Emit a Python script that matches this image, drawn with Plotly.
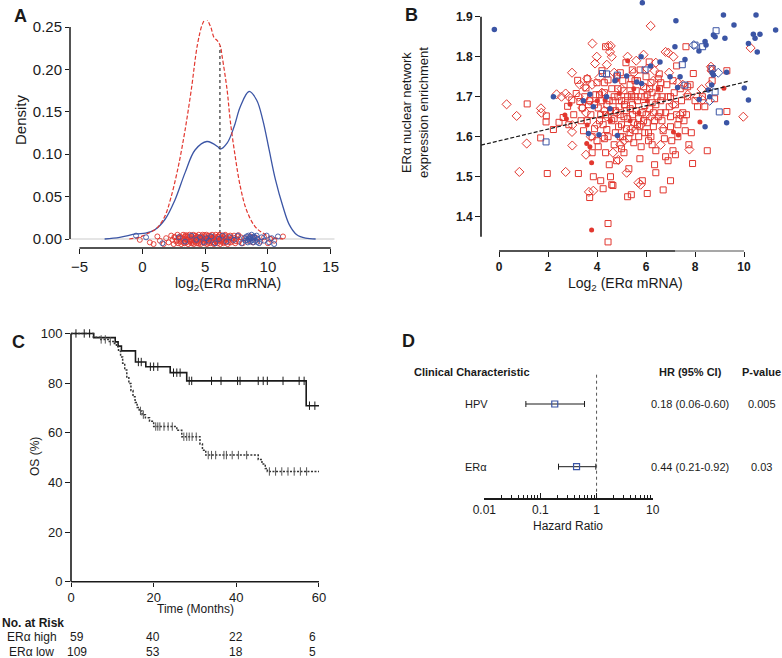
import plotly.graph_objects as go

W, H = 782, 658
def px(x): return x / W
def py(y): return 1 - y / H

FONT = "Liberation Sans, Arial, Helvetica, sans-serif"
INK = "#1a1a1a"
RED = "#e2372f"
BLUE = "#3b55a5"

# ---------------- Panel A data ----------------
blue_dens_x = [-3.0, -1.8, -0.5, 0.26, 1.0, 1.8, 2.6, 3.4, 4.2, 5.14, 6.0, 6.2, 6.75, 7.3, 7.8, 8.5, 9.1, 9.6, 10.1, 10.6, 11.2, 11.7, 12.3, 13.0, 13.8]
blue_dens_y = [0.0, 0.002, 0.006, 0.007, 0.011, 0.023, 0.046, 0.078, 0.105, 0.115, 0.109, 0.106, 0.113, 0.132, 0.156, 0.174, 0.164, 0.140, 0.105, 0.070, 0.038, 0.017, 0.005, 0.001, 0.0]
red_dens_x = [-1.04, -0.26, 0.52, 1.17, 1.8, 2.3, 2.86, 3.4, 3.9, 4.4, 4.8, 5.06, 5.45, 5.7, 5.97, 6.2, 6.36, 6.75, 7.0, 7.4, 7.8, 8.3, 8.96, 9.6, 10.4, 11.2]
red_dens_y = [0.0, 0.002, 0.007, 0.013, 0.027, 0.050, 0.085, 0.128, 0.176, 0.230, 0.254, 0.260, 0.250, 0.238, 0.234, 0.228, 0.215, 0.176, 0.140, 0.097, 0.062, 0.034, 0.015, 0.007, 0.002, 0.0]
cutoff_x = [6.18, 6.18]
cutoff_y = [0.0, 0.227]
red_rug = [(-0.2,-0.001),(0.6,-0.004),(0.9,-0.006),(1.2,0.003),(1.4,-0.002),(1.7,-0.006),(1.9,0.001),(2.1,-0.004),(2.3,0.004),(2.4,-0.001),(2.5,-0.006),(2.6,0.002),(2.7,-0.003),(2.8,0.005),(2.85,-0.005),(2.9,0.0),(3.0,0.003),(3.05,-0.003),(3.1,-0.006),(3.2,0.001),(3.25,0.005),(3.3,-0.002),(3.35,-0.005),(3.4,0.003),(3.45,0.0),(3.5,-0.004),(3.55,0.004),(3.6,-0.001),(3.65,-0.006),(3.7,0.002),(3.75,0.005),(3.8,-0.003),(3.85,0.0),(3.9,-0.005),(3.95,0.003),(4.0,-0.002),(4.05,0.005),(4.1,-0.006),(4.15,0.001),(4.2,-0.003),(4.25,0.004),(4.3,0.0),(4.35,-0.005),(4.4,0.002),(4.45,-0.002),(4.5,0.005),(4.55,-0.004),(4.6,0.001),(4.65,-0.006),(4.7,0.003),(4.75,-0.001),(4.8,0.005),(4.85,-0.003),(4.9,0.0),(4.95,-0.005),(5.0,0.003),(5.05,-0.002),(5.1,0.005),(5.15,-0.006),(5.2,0.001),(5.25,-0.003),(5.3,0.004),(5.35,0.0),(5.4,-0.005),(5.45,0.002),(5.5,-0.002),(5.55,0.005),(5.6,-0.004),(5.65,0.001),(5.7,-0.006),(5.75,0.003),(5.8,-0.001),(5.85,0.005),(5.9,-0.003),(5.95,0.0),(6.0,-0.005),(6.05,0.003),(6.1,-0.002),(6.15,0.005),(6.2,-0.006),(6.25,0.001),(6.3,-0.003),(6.35,0.004),(6.4,0.0),(6.45,-0.005),(6.5,0.002),(6.55,-0.002),(6.6,0.005),(6.65,-0.004),(6.7,0.001),(6.8,-0.006),(6.85,0.003),(6.9,-0.001),(7.0,0.004),(7.05,-0.004),(7.1,0.001),(7.2,-0.002),(7.3,0.004),(7.4,-0.005),(7.5,0.0),(7.6,0.003),(7.7,-0.003),(7.85,0.002),(8.0,-0.005),(8.2,0.001),(8.4,-0.002),(8.6,0.003),(8.8,-0.004),(9.1,0.001),(9.4,-0.003),(9.7,0.002),(10.0,-0.005),(10.2,0.0),(10.5,-0.002),(11.2,0.003),(3.0,0.0015),(3.3,-0.0045),(3.6,0.0025),(3.9,-0.0015),(4.2,0.0035),(4.5,-0.0055),(4.8,0.0015),(5.1,-0.0015),(5.4,0.0035),(5.7,-0.0045),(6.0,0.0025),(6.3,-0.0015),(6.6,0.0035),(6.9,-0.0035),(4.35,0.0025),(4.65,-0.0025),(4.95,0.0045),(5.25,-0.0045),(5.55,0.0015),(5.85,-0.0025),(6.15,0.0045),(6.45,-0.0035),(3.45,0.0045),(3.75,-0.0025),(4.05,-0.0045),(2.55,0.0025),(2.75,-0.0015),(7.25,0.0015),(7.45,-0.0025),(7.65,0.0045)]
blue_rug = [(-0.5,0.004),(0.3,0.002),(1.6,-0.005),(2.9,0.002),(3.4,-0.003),(3.9,0.004),(4.3,-0.001),(4.6,0.002),(4.9,-0.004),(5.1,0.001),(5.3,-0.002),(5.5,0.003),(5.8,-0.005),(6.1,0.0),(6.4,0.004),(6.7,-0.003),(7.0,0.002),(7.3,-0.001),(7.6,0.004),(7.9,-0.005),(8.1,0.001),(8.2,-0.002),(8.3,0.003),(8.4,-0.004),(8.5,0.0),(8.55,0.002),(8.6,-0.003),(8.65,0.001),(8.7,0.005),(8.75,-0.001),(8.8,0.002),(8.85,-0.004),(8.9,0.003),(9.0,-0.002),(9.1,0.004),(9.2,0.0),(9.3,-0.005),(9.5,0.002),(9.7,-0.002),(9.9,0.004),(10.1,-0.004),(10.3,0.001),(10.5,-0.006),(10.8,0.003),(8.45,0.004),(8.35,-0.001),(8.95,0.0015),(9.15,-0.0035)]
a_xticks = [-5, 0, 5, 10, 15]
a_yticks = [0.0, 0.05, 0.10, 0.15, 0.20, 0.25]
a_yticktext = ["0.00", "0.05", "0.10", "0.15", "0.20", "0.25"]

# ---------------- Panel B data ----------------
red_sq = [(1.15,1.682),(1.70,1.597),(1.93,1.652),(1.92,1.637),(1.97,1.508),(2.22,1.618),(2.45,1.636),(2.62,1.648),(2.85,1.630),(2.97,1.692),(2.80,1.676),(3.21,1.741),(3.15,1.708),(3.24,1.508),(3.30,1.688),(3.40,1.672),(3.05,1.655),(3.35,1.640),(3.50,1.700),(3.55,1.722),(3.45,1.615),
(3.60,1.745),(3.70,1.690),(3.75,1.655),(3.80,1.560),(3.70,1.448),(3.85,1.500),(3.90,1.620),(3.95,1.705),(4.00,1.735),(4.05,1.672),(4.10,1.640),(4.05,1.575),(4.15,1.490),(4.25,1.470),(4.20,1.690),(4.30,1.710),(4.35,1.655),(4.40,1.618),(4.45,1.600),(4.45,1.383),(4.45,1.337),(4.35,1.825),(4.35,1.560),(4.50,1.530),(4.55,1.500),(4.45,1.742),(4.20,1.765),(4.30,1.595),(4.60,1.480),(4.65,1.478),(3.80,1.600),(3.65,1.680),(4.00,1.590),(4.10,1.705),(4.25,1.630),(4.40,1.680),(4.55,1.665),
(4.60,1.720),(4.65,1.690),(4.70,1.645),(4.75,1.610),(4.70,1.580),(4.80,1.540),(4.85,1.700),(4.90,1.675),(4.95,1.655),(5.00,1.630),(5.05,1.600),(5.00,1.570),(5.10,1.560),(5.05,1.740),(5.10,1.715),(5.15,1.690),(5.20,1.665),(5.25,1.645),(5.20,1.620),(5.30,1.595),(5.30,1.520),(5.25,1.450),(5.40,1.455),(5.35,1.730),(5.40,1.705),(5.45,1.680),(5.45,1.655),(5.50,1.635),(5.50,1.585),(5.18,1.785),(4.80,1.750),(4.95,1.760),(5.35,1.610),(4.75,1.665),(4.88,1.625),(5.12,1.680),(5.42,1.700),
(5.55,1.740),(5.60,1.715),(5.65,1.690),(5.60,1.665),(5.70,1.645),(5.75,1.625),(5.70,1.600),(5.80,1.575),(5.85,1.490),(5.75,1.545),(5.90,1.725),(5.95,1.700),(5.95,1.678),(6.00,1.655),(6.05,1.635),(6.05,1.458),(6.10,1.610),(6.10,1.590),(6.13,1.787),(6.20,1.735),(6.25,1.710),(6.25,1.685),(6.30,1.660),(6.35,1.640),(6.30,1.625),(6.35,1.530),(6.40,1.510),(6.40,1.565),(5.44,1.767),(5.76,1.767),(6.00,1.750),(5.85,1.660),(6.15,1.670),(5.65,1.630),(6.45,1.700),(6.20,1.600),
(6.50,1.745),(6.54,1.757),(6.55,1.720),(6.60,1.690),(6.60,1.660),(6.65,1.640),(6.70,1.615),(6.75,1.595),(6.70,1.467),(6.80,1.550),(6.85,1.730),(6.90,1.700),(6.95,1.675),(7.00,1.650),(7.00,1.625),(7.05,1.590),(7.10,1.565),(7.10,1.740),(7.15,1.710),(7.20,1.680),(7.25,1.655),(7.25,1.777),(7.30,1.630),(7.30,1.600),(7.00,1.490),(7.40,1.720),(7.45,1.690),(7.50,1.660),(6.90,1.540),(7.20,1.555),
(7.55,1.640),(7.60,1.615),(7.63,1.825),(7.70,1.700),(7.75,1.580),(7.80,1.730),(7.85,1.610),(7.90,1.533),(7.93,1.758),(8.00,1.690),(8.10,1.675),(8.30,1.700),(8.40,1.675),(8.50,1.565),(8.65,1.770),(8.70,1.740),(8.80,1.695),(9.30,1.765),(9.30,1.663),(7.65,1.655),(7.70,1.725),
(4.70,1.700),(4.85,1.720),(5.00,1.690),(5.10,1.650),(5.25,1.700),(5.35,1.670),(5.55,1.700),(5.65,1.740),(5.80,1.700),(5.90,1.640),(6.05,1.705),(6.15,1.720),(6.40,1.680),(6.50,1.650),(6.65,1.700),(6.80,1.660),(4.60,1.640),(4.95,1.600),(5.55,1.615),(6.25,1.580),(5.40,1.745),(6.60,1.735),(5.95,1.610),(4.50,1.690),(4.30,1.735),(4.15,1.655),(3.90,1.680),(3.60,1.640),(7.00,1.700),(7.35,1.645)]
red_dm = [(0.31,1.681),(0.72,1.652),(0.83,1.512),(1.13,1.583),(1.71,1.671),(1.73,1.660),(2.35,1.706),(2.55,1.700),(2.72,1.512),(2.99,1.578),(2.98,1.760),(2.72,1.708),(2.98,1.612),(2.99,1.629),(2.85,1.700),(3.25,1.700),(3.50,1.725),(3.55,1.555),(3.81,1.833),(3.92,1.783),(3.99,1.800),(3.67,1.462),(3.85,1.465),(4.46,1.827),(4.56,1.827),(4.53,1.812),(4.60,1.800),(4.40,1.780),(3.60,1.745),(3.80,1.730),(4.10,1.748),(4.20,1.710),(3.70,1.690),(3.40,1.672),(3.55,1.660),(3.75,1.600),(4.00,1.630),(4.25,1.600),(4.70,1.760),(4.40,1.650),(4.65,1.560),(4.87,1.542),(5.21,1.510),(5.69,1.485),(5.78,1.480),(4.95,1.580),(5.25,1.800),(5.60,1.790),(5.90,1.805),(6.19,1.877),(6.40,1.785),(6.35,1.765),(6.05,1.770),(5.50,1.760),(6.80,1.812),(6.91,1.810),(7.12,1.800),(6.94,1.760),(7.30,1.735),(7.50,1.730),(7.70,1.705),(7.10,1.680),(8.10,1.700),(8.27,1.719),(8.31,1.692),(8.65,1.775),(8.68,1.765),(8.60,1.730),(10.27,1.822),(9.97,1.650),(7.77,1.568),(6.70,1.620),(6.20,1.650),(5.80,1.630),(5.10,1.590),(4.80,1.660),(5.40,1.620),(6.00,1.720),(6.60,1.580),(7.40,1.655),(6.30,1.740),(4.30,1.665),(3.30,1.730),(5.00,1.720)]
red_dot = [(3.78,1.367),(3.78,1.535),(5.25,1.790),(4.33,1.692),(2.90,1.681),(2.69,1.654),(3.58,1.583),(3.71,1.575),(8.20,1.637),(9.18,1.721),(7.12,1.612),(7.32,1.604),(4.01,1.690),(4.80,1.742),(3.60,1.629),(5.71,1.660),(4.91,1.708),(2.75,1.645),(5.35,1.640),(6.05,1.690),(5.50,1.720),(6.50,1.720),(4.55,1.640)]
blue_dot = [(-0.19,1.868),(5.85,1.935),(7.22,1.890),(9.16,1.904),(10.49,1.904),(9.59,1.879),(11.29,1.867),(10.65,1.856),(10.38,1.856),(10.45,1.846),(9.22,1.846),(8.82,1.850),(8.75,1.854),(8.41,1.838),(8.45,1.829),(10.18,1.833),(10.54,1.812),(7.18,1.825),(7.59,1.793),(8.16,1.814),(5.80,1.800),(6.57,1.787),(6.19,1.777),(6.98,1.750),(5.21,1.752),(4.73,1.740),(5.62,1.737),(3.71,1.706),(3.44,1.690),(4.39,1.700),(3.85,1.675),(4.53,1.670),(2.22,1.700),(7.29,1.723),(8.54,1.717),(8.68,1.729),(8.17,1.693),(10.01,1.722),(10.18,1.692),(8.41,1.625),(9.29,1.635),(4.08,1.605),(4.83,1.603),(3.65,1.608),(9.29,1.761),(8.75,1.754),(5.82,1.733),(7.39,1.750),(8.60,1.700),(8.70,1.760)]
blue_sq = [(8.00,1.829),(8.86,1.865),(8.31,1.825),(7.48,1.780),(4.22,1.758),(4.39,1.757),(4.83,1.754),(5.96,1.767),(8.99,1.662),(1.92,1.587),(8.82,1.712),(7.59,1.729),(8.70,1.770)]
blue_dm = [(7.95,1.829),(8.95,1.760),(8.60,1.690)]
trend_x = [-0.73, 10.2]
trend_y = [1.579, 1.739]
b_xticks = [0, 2, 4, 6, 8, 10]
b_yticks = [1.4, 1.5, 1.6, 1.7, 1.8, 1.9]

# ---------------- Panel C data ----------------
high_t = [0, 5.5, 10.7, 11.4, 12.2, 15.6, 18.1, 24.0, 28.0, 56.9, 60]
high_s = [100, 98.3, 96.6, 94.9, 93.0, 88.5, 86.6, 84.2, 80.9, 70.9, 70.9]
low_t = [0, 5.4, 7.0, 9.0, 10.5, 11.0, 11.5, 12.0, 12.5, 13.0, 13.5, 14.0, 14.5, 15.0, 15.5, 16.0, 16.5, 17.2, 18.0, 19.0, 20.0, 25.6, 26.8, 31.2, 31.8, 32.6, 45.3, 46.2, 47.0, 47.5, 60]
low_s = [100, 98.5, 97.6, 96.8, 96.0, 94.6, 92.8, 90.5, 88.0, 85.3, 82.5, 79.8, 77.0, 74.5, 72.2, 70.2, 68.8, 67.3, 66.0, 64.6, 62.5, 61.0, 58.4, 55.5, 53.0, 51.0, 49.2, 47.4, 45.6, 44.4, 44.4]
high_cens_t = [1.2, 3.2, 4.5, 16.3, 17.0, 19.2, 20.0, 21.0, 24.8, 25.6, 26.4, 28.6, 29.2, 34.0, 36.3, 40.3, 40.9, 45.3, 46.5, 47.5, 51.3, 55.2, 56.4, 57.7, 59.0]
high_cens_s = [100, 100, 100, 88.5, 88.5, 86.6, 86.6, 86.6, 84.2, 84.2, 84.2, 80.9, 80.9, 80.9, 80.9, 80.9, 80.9, 80.9, 80.9, 80.9, 80.9, 80.9, 80.9, 70.9, 70.9]
low_cens_t = [7.3, 8.3, 9.5, 16.8, 17.5, 20.5, 21.0, 21.5, 22.5, 23.5, 24.5, 27.3, 28.0, 28.6, 29.3, 30.3, 33.2, 34.0, 35.0, 37.0, 37.6, 39.0, 40.5, 42.5, 48.0, 49.5, 51.0, 52.5, 54.0, 55.5, 57.0]
low_cens_s = [97.6, 97.6, 96.8, 68.8, 67.3, 62.5, 62.5, 62.5, 62.5, 62.5, 62.5, 58.4, 58.4, 58.4, 58.4, 58.4, 51.0, 51.0, 51.0, 51.0, 51.0, 51.0, 51.0, 51.0, 44.4, 44.4, 44.4, 44.4, 44.4, 44.4, 44.4]
c_xticks = [0, 20, 40, 60]
c_yticks = [0, 20, 40, 60, 80, 100]
risk_times = [0, 20, 40, 60]
risk_high = [59, 40, 22, 6]
risk_low = [109, 53, 18, 5]

# ---------------- Panel D data ----------------
d_labels = ["HPV", "ERα"]
d_rows = [2, 1]
d_hr = [0.18, 0.44]
d_lo = [0.055, 0.21]
d_hi = [0.61, 0.97]
d_hr_text = ["0.18 (0.06-0.60)", "0.44 (0.21-0.92)"]
d_p_text = ["0.005", "0.03"]
d_xticks = [0.01, 0.1, 1, 10]
d_xticktext = ["0.01", "0.1", "1", "10"]
d_minor = [0.02,0.03,0.04,0.05,0.06,0.07,0.08,0.09,0.2,0.3,0.4,0.5,0.6,0.7,0.8,0.9,2,3,4,5,6,7,8,9]

fig = go.Figure()

# ---- A ----
fig.add_trace(go.Scatter(x=blue_dens_x, y=blue_dens_y, mode="lines", line=dict(color=BLUE, width=1.3, shape="spline"), xaxis="x", yaxis="y", showlegend=False))
fig.add_trace(go.Scatter(x=red_dens_x, y=red_dens_y, mode="lines", line=dict(color=RED, width=1.2, dash="4px,2px", shape="spline"), xaxis="x", yaxis="y", showlegend=False))
fig.add_trace(go.Scatter(x=cutoff_x, y=cutoff_y, mode="lines", line=dict(color="#333333", width=1.2, dash="dot"), xaxis="x", yaxis="y", showlegend=False))
fig.add_trace(go.Scatter(x=[p[0] for p in red_rug], y=[p[1] for p in red_rug], mode="markers",
                         marker=dict(symbol="circle-open", size=5, color=RED, line=dict(width=0.9)), xaxis="x", yaxis="y", showlegend=False))
fig.add_trace(go.Scatter(x=[p[0] for p in blue_rug], y=[p[1] for p in blue_rug], mode="markers",
                         marker=dict(symbol="circle-open", size=5, color=BLUE, line=dict(width=0.9)), xaxis="x", yaxis="y", showlegend=False))

# ---- B ----
def sc(pts, symbol, size, color, lw=1.0):
    fig.add_trace(go.Scatter(x=[p[0] for p in pts], y=[p[1] for p in pts], mode="markers",
                             marker=dict(symbol=symbol, size=size, color=color, line=dict(width=lw, color=color)),
                             xaxis="x2", yaxis="y2", showlegend=False))
sc(red_sq, "square-open", 6, RED)
sc(red_dm, "diamond-open", 7, RED)
sc(red_dot, "circle", 5, RED, 0)
sc(blue_sq, "square-open", 6, BLUE)
sc(blue_dm, "diamond-open", 7, BLUE)
sc(blue_dot, "circle", 5.5, BLUE, 0)
fig.add_trace(go.Scatter(x=trend_x, y=trend_y, mode="lines", line=dict(color=INK, width=1.2, dash="4px,2px"),
                         xaxis="x2", yaxis="y2", showlegend=False))

# ---- C ----
fig.add_trace(go.Scatter(x=high_t, y=high_s, mode="lines", line=dict(color=INK, width=1.6, shape="hv"), xaxis="x3", yaxis="y3", showlegend=False))
fig.add_trace(go.Scatter(x=low_t, y=low_s, mode="lines", line=dict(color="#333333", width=1.5, shape="hv", dash="2px,1.5px"), xaxis="x3", yaxis="y3", showlegend=False))
fig.add_trace(go.Scatter(x=high_cens_t, y=high_cens_s, mode="markers", marker=dict(symbol="line-ns", size=6, line=dict(width=1, color=INK)), xaxis="x3", yaxis="y3", showlegend=False))
fig.add_trace(go.Scatter(x=low_cens_t, y=low_cens_s, mode="markers", marker=dict(symbol="line-ns", size=6, line=dict(width=1, color="#555555")), xaxis="x3", yaxis="y3", showlegend=False))

# ---- D ----
fig.add_trace(go.Scatter(x=d_hr, y=d_rows, mode="markers",
                         marker=dict(symbol="square-open", size=6, color=BLUE, line=dict(width=1.2, color=BLUE)),
                         error_x=dict(type="data", symmetric=False,
                                      array=[h - m for h, m in zip(d_hi, d_hr)],
                                      arrayminus=[m - l for m, l in zip(d_hr, d_lo)],
                                      color=INK, thickness=1, width=3),
                         xaxis="x4", yaxis="y4", showlegend=False))
fig.add_trace(go.Scatter(x=[1, 1], y=[0.5056, 2.515], mode="lines", line=dict(color="#555555", width=1, dash="dot"),
                         xaxis="x4", yaxis="y4", showlegend=False))

tick_font = dict(family=FONT, size=15, color=INK)
shapes = []
annotations = []

def axline(xref, yref, x0, y0, x1, y1, color=INK, width=1.5):
    shapes.append(dict(type="line", xref=xref, yref=yref, x0=x0, y0=y0, x1=x1, y1=y1, line=dict(color=color, width=width), layer="above"))

# A axis lines
shapes.append(dict(type="line", xref="x", yref="y", x0=-5.7, x1=15.3, y0=0, y1=0, line=dict(color="#dcdcdc", width=1.5), layer="below"))
axline("x", "y domain", -5, 0, 15, 0)
axline("x domain", "y", 0, 0, 0, 0.25)
# B axis lines
axline("x2", "y2 domain", 0, 0, 7.2, 0, width=1.6)
axline("x2", "y2 domain", 7.2, 0, 10, 0, color="#8a8a8a", width=1.3)
axline("x2 domain", "y2", 0, 1.35, 0, 1.9, width=1.6)
# C axis lines
axline("x3", "y3 domain", 0, 0, 60, 0, width=1.6)
axline("x3 domain", "y3", 0, 0, 0, 100, width=1.6)

def ann(text, x, y, size, bold=False, xanchor="center", angle=0, color=INK):
    annotations.append(dict(text=text, x=px(x), y=py(y), xref="paper", yref="paper", showarrow=False,
                            xanchor=xanchor, yanchor="middle", textangle=angle,
                            font=dict(family=FONT, size=size, color=color, weight="bold" if bold else "normal")))

# panel letters
ann("A", 20, 16, 18, True)
ann("B", 412, 15, 18, True)
ann("C", 18, 342, 18, True)
ann("D", 408, 341, 18, True)
# A titles
ann("log<sub>2</sub>(ERα mRNA)", 228, 284, 14)
ann("Density", 20, 120, 15, angle=-90)
# B titles
ann("Log<sub>2</sub> (ERα mRNA)", 625, 284, 14)
ann("ERα nuclear network<br>expression enrichment", 415, 113, 13, angle=-90)
# C titles
ann("Time (Months)", 195, 609, 12)
ann("OS (%)", 35, 457, 12, angle=-90)
ann("No. at Risk", 0, 623, 12, True, xanchor="left")
ann("ERα high", 5, 637, 12, xanchor="left")
ann("ERα low", 7, 652, 12, xanchor="left")
risk_px = [77, 153, 236, 312]
for xp, hv, lv in zip(risk_px, risk_high, risk_low):
    ann(str(hv), xp, 637, 12)
    ann(str(lv), xp, 652, 12)
# D texts
ann("Clinical Characteristic", 472, 372, 11, True)
ann("HR (95% CI)", 690, 372, 11, True)
ann("P-value", 761, 372, 11, True)
row_px = [404, 466.7]
for lab, hrt, pt, yp in zip(d_labels, d_hr_text, d_p_text, row_px):
    ann(lab, 463, yp, 11, xanchor="left")
    ann(hrt, 690, yp, 11)
    ann(pt, 761.5, yp, 11)
ann("Hazard Ratio", 568, 526, 12)

common = dict(showgrid=False, zeroline=False, showline=False, tickcolor=INK, tickwidth=1.2, automargin=False)

fig.update_layout(
    width=W, height=H, margin=dict(l=0, r=0, t=0, b=0, autoexpand=False),
    paper_bgcolor="white", plot_bgcolor="rgba(0,0,0,0)",
    font=dict(family=FONT, color=INK),
    shapes=shapes, annotations=annotations,
    xaxis=dict(domain=[px(70), px(340)], range=[-5.756, 15.74], anchor="y", tickvals=a_xticks, ticks="outside", ticklen=5,
               tickfont=tick_font, **common),
    yaxis=dict(domain=[py(248), py(20)], range=[-0.01061, 0.2583], anchor="x", tickvals=a_yticks, ticktext=a_yticktext,
               ticks="outside", ticklen=4, tickfont=tick_font, **common),
    xaxis2=dict(domain=[px(481), 1.0], range=[-0.735, 11.55], anchor="y2", tickvals=b_xticks, ticks="outside", ticklen=5,
                tickfont=dict(family=FONT, size=12, color=INK, weight="bold"), **common),
    yaxis2=dict(domain=[py(251), 1.0], range=[1.3143, 1.9418], anchor="x2", tickvals=b_yticks, ticktext=["1.4","1.5","1.6","1.7","1.8","1.9"],
                ticks="outside", ticklen=5, tickfont=dict(family=FONT, size=12, color=INK, weight="bold"), **common),
    xaxis3=dict(domain=[px(71), px(323)], range=[0, 60.97], anchor="y3", tickvals=c_xticks, ticks="outside", ticklen=4,
                tickfont=dict(family=FONT, size=13, color=INK), **common),
    yaxis3=dict(domain=[py(581.7), py(326)], range=[0, 103.0], anchor="x3", tickvals=c_yticks, ticks="outside", ticklen=5,
                tickfont=dict(family=FONT, size=13, color=INK), **common),
    xaxis4=dict(domain=[px(484.3), px(652.7)], type="log", range=[-2, 1], anchor="y4", tickvals=d_xticks, ticktext=d_xticktext,
                ticks="inside", ticklen=5, tickfont=dict(family=FONT, size=12, color=INK),
                showgrid=False, zeroline=False, showline=True, linecolor=INK, linewidth=1.5, tickcolor=INK, tickwidth=1.2,
                automargin=False,
                minor=dict(tickvals=d_minor, ticks="inside", ticklen=3, tickcolor=INK, tickwidth=1)),
    yaxis4=dict(domain=[py(497.7), py(360)], range=[0.5056, 2.702], anchor="x4", visible=False, automargin=False),
)

fig.write_html("out.html", config={"displayModeBar": False},
               post_script="document.body.style.margin='0px';document.body.style.overflow='hidden';")
